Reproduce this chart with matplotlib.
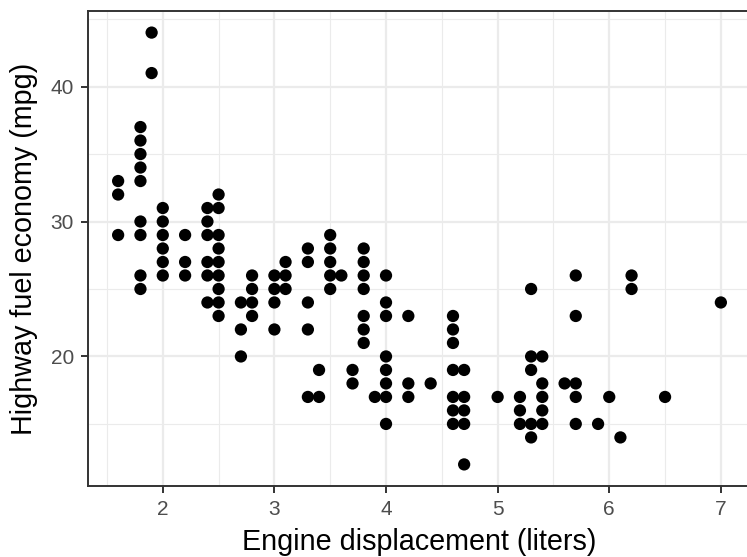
import matplotlib
matplotlib.use("Agg")
import matplotlib.pyplot as plt
from matplotlib.ticker import FixedLocator

# Engine displacement (liters) and highway mpg (unique points)
displ_groups = [1.6, 1.8, 1.9, 2.0, 2.2, 2.4, 2.5, 2.7, 2.8, 3.0, 3.1, 3.3, 3.4,
                3.5, 3.6, 3.7, 3.8, 3.9, 4.0, 4.2, 4.4, 4.6, 4.7, 5.0, 5.2, 5.3,
                5.4, 5.6, 5.7, 5.9, 6.0, 6.1, 6.2, 6.5, 7.0]
hwy_groups = [
    [33, 32, 29],
    [37, 36, 35, 34, 33, 30, 29, 26, 25],
    [44, 41],
    [31, 30, 29, 28, 27, 26],
    [29, 27, 26],
    [31, 30, 29, 27, 26, 24],
    [32, 31, 29, 28, 27, 26, 25, 24, 23],
    [24, 22, 20],
    [26, 25, 24, 23],
    [26, 25, 24, 22],
    [27, 26, 25],
    [28, 27, 24, 22, 17],
    [19, 17],
    [29, 28, 27, 26, 25],
    [26],
    [19, 18],
    [28, 27, 26, 25, 23, 22, 21],
    [17],
    [26, 24, 23, 20, 19, 18, 17, 15],
    [23, 18, 17],
    [18],
    [23, 22, 21, 19, 17, 16, 15],
    [19, 17, 16, 15, 12],
    [17],
    [17, 16, 15],
    [25, 20, 19, 15, 14],
    [20, 18, 17, 16, 15],
    [18],
    [26, 23, 18, 17, 15],
    [15],
    [17],
    [14],
    [26, 25],
    [17],
    [24],
]

displ = [d for d, hs in zip(displ_groups, hwy_groups) for _ in hs]
hwy = [h for hs in hwy_groups for h in hs]

x_major = [2, 3, 4, 5, 6, 7]
x_minor = [1.5, 2.5, 3.5, 4.5, 5.5, 6.5]
y_major = [20, 30, 40]
y_minor = [15, 25, 35, 45]

plt.rcParams['font.family'] = ['Liberation Sans', 'DejaVu Sans']

W, H = 747, 557
fig = plt.figure(figsize=(W / 100, H / 100), dpi=100)
L, R, T, B = 88, 751, 11, 486
ax = fig.add_axes([L / W, (H - B) / H, (R - L) / W, (B - T) / H])

ax.set_facecolor('white')
ax.set_xlim(1.33, 7.27)
ax.set_ylim(10.4, 45.6)

ax.xaxis.set_major_locator(FixedLocator(x_major))
ax.xaxis.set_minor_locator(FixedLocator(x_minor))
ax.yaxis.set_major_locator(FixedLocator(y_major))
ax.yaxis.set_minor_locator(FixedLocator(y_minor))

ax.grid(which='major', color='#EBEBEB', linewidth=1.6, zorder=0)
ax.grid(which='minor', color='#EBEBEB', linewidth=0.8, zorder=0)
ax.set_axisbelow(True)

ax.scatter(displ, hwy, s=78, color='black', edgecolors='none', zorder=3)

for sp in ax.spines.values():
    sp.set_color('#333333')
    sp.set_linewidth(1.4)

ax.tick_params(which='major', length=5, width=1.4, color='#333333',
               labelsize=15, labelcolor='#4D4D4D')
ax.tick_params(axis='x', which='major', pad=5)
ax.tick_params(axis='y', which='major', pad=5)
ax.tick_params(which='minor', length=0)

ax.set_xlabel('Engine displacement (liters)', fontsize=20.7, color='black')
ax.set_ylabel('Highway fuel economy (mpg)', fontsize=20.7, color='black')
ax.xaxis.set_label_coords(0.5, (B - 556) / (B - T))
ax.xaxis.label.set_verticalalignment('bottom')
ax.yaxis.set_label_coords((38 - L) / (R - L), 0.5)

fig.savefig('out.png', dpi=100)
